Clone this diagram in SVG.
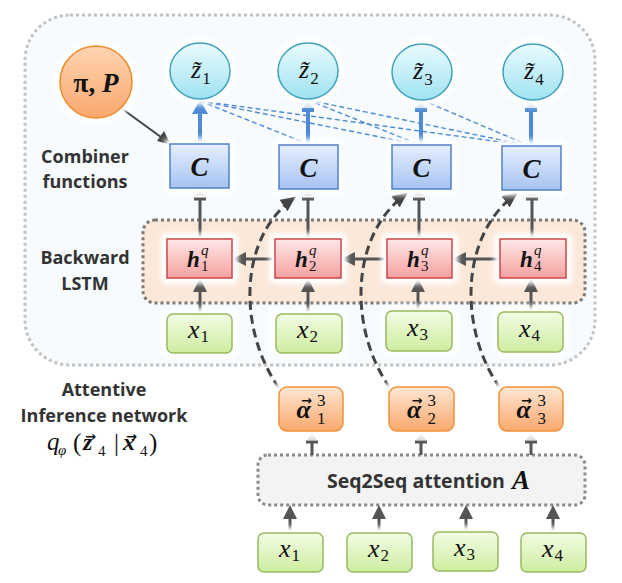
<svg xmlns="http://www.w3.org/2000/svg" width="622" height="583" viewBox="0 0 622 583">
<style>
.lbl{font-family:"Open Sans","Liberation Sans",sans-serif;font-weight:bold;font-size:18px;fill:#333}
.mi{font-family:"Liberation Serif",serif;font-style:italic;font-size:26px;fill:#111}
.mb{font-family:"Liberation Serif",serif;font-style:italic;font-weight:bold;font-size:26px;fill:#111}
.sb{font-family:"Liberation Serif",serif;font-style:normal;font-weight:normal;font-size:17px}
.ss{font-family:"Liberation Serif",serif;font-style:normal;font-weight:normal;font-size:15px}
.si{font-family:"Liberation Serif",serif;font-style:italic;font-weight:normal;font-size:15px}
.ac{font-family:"DejaVu Sans",sans-serif;font-style:normal;font-weight:bold;font-size:13px}
.halo{fill:#fff;filter:url(#blur)}
.zn{fill:url(#zG);stroke:#3fa3bd;stroke-width:1.5}
.cn{fill:url(#cG);stroke:#4d82c8;stroke-width:1.5}
.hn{fill:url(#hG);stroke:#cc4747;stroke-width:1.5}
.xn{fill:url(#xG);stroke:#98ba60;stroke-width:1.5}
.an{fill:url(#aG);stroke:#f0923a;stroke-width:1.5}
.dk{stroke:#555;stroke-width:3;fill:none}
.bl{stroke:#4f8ad6;stroke-width:4;fill:none}
.bd{stroke:#4f8ad6;stroke-width:1.4;stroke-dasharray:5 3;fill:none}
.cv{stroke:#444;stroke-width:3;stroke-dasharray:9 5;fill:none}
.dh{fill:#555}
.lt{fill:#d8d8d8}
.ltb{fill:#c8dcf4}
</style>
<defs>
<filter id="blur" x="-30%" y="-30%" width="160%" height="160%"><feGaussianBlur stdDeviation="2.5"/></filter>
<linearGradient id="zG" x1="0" y1="0" x2="0" y2="1"><stop offset="0" stop-color="#eafbfe"/><stop offset="1" stop-color="#9fe2f2"/></linearGradient>
<linearGradient id="cG" x1="0" y1="0" x2="0" y2="1"><stop offset="0" stop-color="#e6efff"/><stop offset="1" stop-color="#a6c3f2"/></linearGradient>
<linearGradient id="hG" x1="0" y1="0" x2="0" y2="1"><stop offset="0" stop-color="#ffe8e8"/><stop offset="1" stop-color="#f7a0a0"/></linearGradient>
<linearGradient id="xG" x1="0" y1="0" x2="0" y2="1"><stop offset="0" stop-color="#f3fce4"/><stop offset="1" stop-color="#cdeda0"/></linearGradient>
<linearGradient id="aG" x1="0" y1="0" x2="0" y2="1"><stop offset="0" stop-color="#ffe7d4"/><stop offset="1" stop-color="#f9a86c"/></linearGradient>
<linearGradient id="pG" x1="0" y1="0" x2="0" y2="1"><stop offset="0" stop-color="#ffd3b3"/><stop offset="1" stop-color="#f9a96e"/></linearGradient>
<marker id="ah" markerUnits="userSpaceOnUse" markerWidth="16" markerHeight="14" refX="13" refY="7" orient="auto"><path d="M0,0 L15,7 L0,14 z" fill="#444"/></marker>
</defs>

<rect width="622" height="583" fill="#fff"/>
<g id="inference-network">
<rect x="25" y="15" width="570" height="350" rx="45" fill="#f7fbfe" stroke="#c2c2c2" stroke-width="3" stroke-dasharray="3 3"/>
</g>
<g id="lstm-box">
<rect x="143" y="220" width="442" height="83" rx="12" fill="#fbe8d9" stroke="#7a7a7a" stroke-width="3" stroke-dasharray="3 3"/>
</g>
<g id="seq2seq">
<rect x="258" y="455" width="327" height="50" rx="10" fill="#f3f3f3" stroke="#8a8a8a" stroke-width="3" stroke-dasharray="3 3"/>
<text class="lbl" x="327" y="488" style="font-size:19.5px">Seq2Seq attention <tspan x="512" y="489" style="font-family:'Liberation Serif',serif;font-style:italic;font-size:27px;fill:#111">A</tspan></text>
</g>

<g id="labels">
<text class="lbl" x="85" y="163" text-anchor="middle">Combiner</text>
<text class="lbl" x="85" y="188" text-anchor="middle">functions</text>
<text class="lbl" x="85" y="264" text-anchor="middle">Backward</text>
<text class="lbl" x="85" y="290" text-anchor="middle">LSTM</text>
<text class="lbl" x="104" y="396" text-anchor="middle">Attentive</text>
<text class="lbl" x="104" y="422" text-anchor="middle">Inference network</text>
<text style="font-family:'Liberation Serif',serif;font-size:25px;fill:#111"><tspan x="47" y="450" font-style="italic">q</tspan><tspan class="si" x="58" y="455">φ</tspan><tspan x="73" y="451">(</tspan><tspan x="83" y="450" font-style="italic" font-weight="bold" font-size="24">z</tspan><tspan class="ac" x="85" y="441">→</tspan><tspan class="ss" x="98" y="456">4</tspan><tspan x="114" y="451">|</tspan><tspan x="123" y="450" font-style="italic" font-weight="bold" font-size="24">x</tspan><tspan class="ac" x="126" y="441">→</tspan><tspan class="ss" x="140" y="456">4</tspan><tspan x="149" y="451">)</tspan></text>
</g>

<g id="connectors">
<line x1="121" y1="108" x2="165" y2="140" stroke="#444" stroke-width="2"/>
<path d="M171,145 L157,141 L164,131 z" fill="#444"/>
<line class="bl" x1="200" y1="144" x2="200" y2="113"/>
<path d="M192,114 L208,114 L200,100 z" fill="#4f8ad6"/>
<line class="bl" x1="308" y1="145" x2="308" y2="110"/><line class="bl" x1="302" y1="110" x2="314" y2="110"/><path class="ltb" d="M303,108 L313,108 L308,101 z"/>
<line class="bl" x1="421" y1="145" x2="421" y2="110"/><line class="bl" x1="415" y1="110" x2="427" y2="110"/><path class="ltb" d="M416,108 L426,108 L421,101 z"/>
<line class="bl" x1="531" y1="146" x2="531" y2="110"/><line class="bl" x1="525" y1="110" x2="537" y2="110"/><path class="ltb" d="M526,108 L536,108 L531,101 z"/>
<line class="bd" x1="200" y1="101" x2="308" y2="144"/>
<line class="bd" x1="200" y1="101" x2="420" y2="145"/>
<line class="bd" x1="200" y1="101" x2="530" y2="146"/>
<line class="bd" x1="308" y1="100" x2="420" y2="145"/>
<line class="bd" x1="308" y1="100" x2="530" y2="146"/>
<line class="bd" x1="422" y1="100" x2="530" y2="146"/>
<line class="dk" x1="200" y1="239" x2="200" y2="199"/><line class="dk" x1="194" y1="199" x2="206" y2="199"/><path class="lt" d="M195,196 L205,196 L200,189 z"/>
<line class="dk" x1="308" y1="239" x2="308" y2="199"/><line class="dk" x1="302" y1="199" x2="314" y2="199"/><path class="lt" d="M303,196 L313,196 L308,189 z"/>
<line class="dk" x1="419" y1="239" x2="419" y2="199"/><line class="dk" x1="413" y1="199" x2="425" y2="199"/><path class="lt" d="M414,196 L424,196 L419,189 z"/>
<line class="dk" x1="532" y1="239" x2="532" y2="199"/><line class="dk" x1="526" y1="199" x2="538" y2="199"/><path class="lt" d="M527,196 L537,196 L532,189 z"/>
<line class="dk" x1="275" y1="259" x2="244" y2="259"/><path class="dh" d="M232,259 L246,252 L246,266 z"/>
<line class="dk" x1="387" y1="259" x2="353" y2="259"/><path class="dh" d="M341,259 L355,252 L355,266 z"/>
<line class="dk" x1="500" y1="259" x2="464" y2="259"/><path class="dh" d="M452,259 L466,252 L466,266 z"/>
<line class="dk" x1="200" y1="314" x2="200" y2="290"/><path class="dh" d="M200,278 L193,292 L207,292 z"/>
<line class="dk" x1="308" y1="314" x2="308" y2="290"/><path class="dh" d="M308,278 L301,292 L315,292 z"/>
<line class="dk" x1="418" y1="311" x2="418" y2="290"/><path class="dh" d="M418,278 L411,292 L425,292 z"/>
<line class="dk" x1="531" y1="312" x2="531" y2="290"/><path class="dh" d="M531,278 L524,292 L538,292 z"/>
<path class="cv" d="M279,388 C238,330 238,238 294,198" marker-end="url(#ah)"/>
<path class="cv" d="M390,388 C349,330 349,236 406,194" marker-end="url(#ah)"/>
<path class="cv" d="M500,388 C459,330 459,236 516,194" marker-end="url(#ah)"/>
<line class="dk" x1="312" y1="455" x2="312" y2="442"/><line class="dk" x1="306" y1="442" x2="318" y2="442"/><path class="lt" d="M307,440 L317,440 L312,433 z"/>
<line class="dk" x1="421" y1="455" x2="421" y2="442"/><line class="dk" x1="415" y1="442" x2="427" y2="442"/><path class="lt" d="M416,440 L426,440 L421,433 z"/>
<line class="dk" x1="531" y1="455" x2="531" y2="442"/><line class="dk" x1="525" y1="442" x2="537" y2="442"/><path class="lt" d="M526,440 L536,440 L531,433 z"/>
<line class="dk" x1="290" y1="533" x2="290" y2="517"/><path class="dh" d="M290,505 L283,519 L297,519 z"/>
<line class="dk" x1="379" y1="533" x2="379" y2="517"/><path class="dh" d="M379,505 L372,519 L386,519 z"/>
<line class="dk" x1="466" y1="533" x2="466" y2="517"/><path class="dh" d="M466,505 L459,519 L473,519 z"/>
<line class="dk" x1="553" y1="533" x2="553" y2="517"/><path class="dh" d="M553,505 L546,519 L560,519 z"/>
</g>

<g id="piP">
<circle class="halo" cx="96" cy="82" r="42"/>
<circle cx="96" cy="82" r="36" fill="url(#pG)" stroke="#f08a2c" stroke-width="1.5"/>
<text x="96" y="92" text-anchor="middle" style="font-family:'Liberation Serif',serif;font-weight:bold;font-size:27px;fill:#111">π, <tspan font-style="italic">P</tspan></text>
</g>

<g id="z1"><ellipse class="halo" cx="200" cy="71" rx="36" ry="34"/><ellipse class="zn" cx="200" cy="71" rx="30" ry="28"/><text class="mi" x="191" y="78">z̃<tspan class="sb" dx="1" dy="6">1</tspan></text></g>
<g id="z2"><ellipse class="halo" cx="308" cy="71" rx="36" ry="34"/><ellipse class="zn" cx="308" cy="71" rx="30" ry="28"/><text class="mi" x="299" y="78">z̃<tspan class="sb" dx="1" dy="6">2</tspan></text></g>
<g id="z3"><ellipse class="halo" cx="422" cy="72" rx="36" ry="34"/><ellipse class="zn" cx="422" cy="72" rx="30" ry="28"/><text class="mi" x="413" y="79">z̃<tspan class="sb" dx="1" dy="6">3</tspan></text></g>
<g id="z4"><ellipse class="halo" cx="533" cy="72" rx="36" ry="34"/><ellipse class="zn" cx="533" cy="72" rx="30" ry="28"/><text class="mi" x="524" y="79">z̃<tspan class="sb" dx="1" dy="6">4</tspan></text></g>

<g id="C1"><rect class="halo" x="164" y="138" width="71" height="56" rx="6"/><rect class="cn" x="170" y="144" width="59" height="44"/><text class="mb" x="199.5" y="176" text-anchor="middle" style="font-size:27px">C</text></g>
<g id="C2"><rect class="halo" x="273" y="139" width="71" height="56" rx="6"/><rect class="cn" x="279" y="145" width="59" height="44"/><text class="mb" x="308.5" y="177" text-anchor="middle" style="font-size:27px">C</text></g>
<g id="C3"><rect class="halo" x="386" y="139" width="71" height="56" rx="6"/><rect class="cn" x="392" y="145" width="59" height="44"/><text class="mb" x="421.5" y="177" text-anchor="middle" style="font-size:27px">C</text></g>
<g id="C4"><rect class="halo" x="496" y="140" width="71" height="56" rx="6"/><rect class="cn" x="502" y="146" width="59" height="44"/><text class="mb" x="531.5" y="178" text-anchor="middle" style="font-size:27px">C</text></g>

<g id="h1"><rect class="halo" x="161" y="233" width="77" height="51" rx="6"/><rect class="hn" x="167" y="239" width="65" height="39"/><text class="mb" style="font-size:23px"><tspan x="187" y="267">h</tspan><tspan class="si" x="201" y="255">q</tspan><tspan class="ss" x="201" y="271">1</tspan></text></g>
<g id="h2"><rect class="halo" x="269" y="233" width="78" height="51" rx="6"/><rect class="hn" x="275" y="239" width="66" height="39"/><text class="mb" style="font-size:23px"><tspan x="295" y="267">h</tspan><tspan class="si" x="309" y="255">q</tspan><tspan class="ss" x="309" y="271">2</tspan></text></g>
<g id="h3"><rect class="halo" x="381" y="233" width="77" height="51" rx="6"/><rect class="hn" x="387" y="239" width="65" height="39"/><text class="mb" style="font-size:23px"><tspan x="407" y="267">h</tspan><tspan class="si" x="421" y="255">q</tspan><tspan class="ss" x="421" y="271">3</tspan></text></g>
<g id="h4"><rect class="halo" x="494" y="233" width="78" height="51" rx="6"/><rect class="hn" x="500" y="239" width="66" height="39"/><text class="mb" style="font-size:23px"><tspan x="520" y="267">h</tspan><tspan class="si" x="534" y="255">q</tspan><tspan class="ss" x="534" y="271">4</tspan></text></g>

<g id="x1u"><rect class="halo" x="161" y="308" width="77" height="51" rx="9"/><rect class="xn" x="167" y="314" width="65" height="39" rx="6"/><text class="mi" x="188" y="338">x<tspan class="sb" dx="1" dy="4">1</tspan></text></g>
<g id="x2u"><rect class="halo" x="270" y="308" width="78" height="51" rx="9"/><rect class="xn" x="276" y="314" width="66" height="39" rx="6"/><text class="mi" x="297" y="338">x<tspan class="sb" dx="1" dy="4">2</tspan></text></g>
<g id="x3u"><rect class="halo" x="380" y="305" width="78" height="51" rx="9"/><rect class="xn" x="386" y="311" width="66" height="40" rx="6"/><text class="mi" x="407" y="336">x<tspan class="sb" dx="1" dy="4">3</tspan></text></g>
<g id="x4u"><rect class="halo" x="492" y="306" width="77" height="51" rx="9"/><rect class="xn" x="498" y="312" width="65" height="40" rx="6"/><text class="mi" x="519" y="337">x<tspan class="sb" dx="1" dy="4">4</tspan></text></g>

<g id="a1"><rect class="halo" x="273" y="381" width="76" height="56" rx="10"/><rect class="an" x="279" y="387" width="64" height="44" rx="8"/><text class="mb"><tspan x="296.5" y="418">α</tspan><tspan class="ac" x="301" y="405">→</tspan><tspan class="sb" x="317" y="406">3</tspan><tspan class="sb" x="317" y="424">1</tspan></text></g>
<g id="a2"><rect class="halo" x="383" y="381" width="77" height="56" rx="10"/><rect class="an" x="389" y="387" width="65" height="44" rx="8"/><text class="mb"><tspan x="407" y="418">α</tspan><tspan class="ac" x="411.5" y="405">→</tspan><tspan class="sb" x="427.5" y="406">3</tspan><tspan class="sb" x="427.5" y="424">2</tspan></text></g>
<g id="a3"><rect class="halo" x="493" y="381" width="76" height="56" rx="10"/><rect class="an" x="499" y="387" width="64" height="44" rx="8"/><text class="mb"><tspan x="516.5" y="418">α</tspan><tspan class="ac" x="521" y="405">→</tspan><tspan class="sb" x="537.5" y="406">3</tspan><tspan class="sb" x="537.5" y="424">3</tspan></text></g>

<g id="x1b"><rect class="halo" x="252" y="527" width="77" height="51" rx="9"/><rect class="xn" x="258" y="533" width="65" height="39" rx="6"/><text class="mi" x="279" y="557">x<tspan class="sb" dx="1" dy="4">1</tspan></text></g>
<g id="x2b"><rect class="halo" x="341" y="527" width="77" height="51" rx="9"/><rect class="xn" x="347" y="533" width="65" height="39" rx="6"/><text class="mi" x="368" y="557">x<tspan class="sb" dx="1" dy="4">2</tspan></text></g>
<g id="x3b"><rect class="halo" x="427" y="526" width="77" height="51" rx="9"/><rect class="xn" x="433" y="532" width="65" height="39" rx="6"/><text class="mi" x="454" y="556">x<tspan class="sb" dx="1" dy="4">3</tspan></text></g>
<g id="x4b"><rect class="halo" x="515" y="527" width="77" height="51" rx="9"/><rect class="xn" x="521" y="533" width="65" height="39" rx="6"/><text class="mi" x="542" y="557">x<tspan class="sb" dx="1" dy="4">4</tspan></text></g>
</svg>
